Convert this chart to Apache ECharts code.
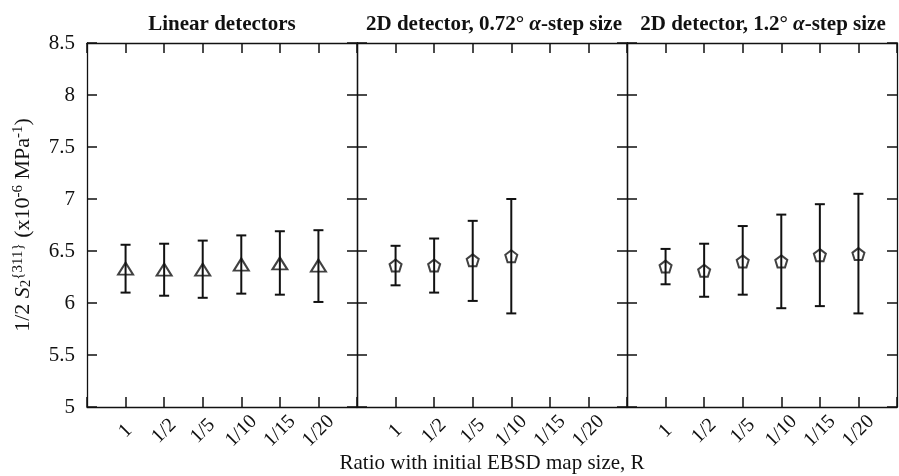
<!DOCTYPE html>
<html lang="en">
<head>
    <meta charset="UTF-8">
    <title>1/2 S2 vs map size ratio</title>
    <script src="https://cdn.jsdelivr.net/npm/echarts@6.0.0/dist/echarts.min.js"></script>
    <style type="text/css">
        *{margin:0;padding:0;}
        body{background:#fff;}
        #main{width:899px;height:476px;}
    </style>
</head>
<body>
<div id="main"></div>

<script type="text/javascript">
    // x categories (map size ratio)
    var xCats = ['1', '1/2', '1/5', '1/10', '1/15', '1/20'];
    var yTicks = [5, 5.5, 6, 6.5, 7, 7.5, 8, 8.5];

    // Linear detectors
    var linMean = [6.33, 6.32, 6.32, 6.37, 6.38, 6.36];
    var linLow  = [6.10, 6.07, 6.05, 6.09, 6.08, 6.01];
    var linHigh = [6.56, 6.57, 6.60, 6.65, 6.69, 6.70];

    // 2D detector, 0.72 deg step
    var d072Mean = [6.36, 6.36, 6.41, 6.45];
    var d072Low  = [6.17, 6.10, 6.02, 5.90];
    var d072High = [6.55, 6.62, 6.79, 7.00];

    // 2D detector, 1.2 deg step
    var d12Mean = [6.35, 6.31, 6.40, 6.40, 6.46, 6.47];
    var d12Low  = [6.18, 6.06, 6.08, 5.95, 5.97, 5.90];
    var d12High = [6.52, 6.57, 6.74, 6.85, 6.95, 7.05];

    var FONT = 'Liberation Serif';
    var INK = '#111';
    var PENTAGON = 'path://M0,-1 L0.951,-0.309 L0.588,0.809 L-0.588,0.809 L-0.951,-0.309 Z';

    var panels = [
        {mean: linMean, low: linLow, high: linHigh, symbol: 'triangle', size: [15, 12]},
        {mean: d072Mean, low: d072Low, high: d072High, symbol: PENTAGON, size: [12, 12]},
        {mean: d12Mean, low: d12Low, high: d12High, symbol: PENTAGON, size: [12, 12]}
    ];
    var lefts = [87, 357, 627];

    var myChart = echarts.init(document.getElementById('main'));

    var grid = [], xAxis = [], yAxis = [], series = [];
    lefts.forEach(function (l, i) {
        grid.push({left: l, top: 43, width: 270, height: 364, containLabel: false, outerBoundsMode: 'none'});
        var xBase = {
            gridIndex: i, type: 'value', min: 0, max: 7, interval: 1,
            axisLine: {show: true, onZero: false, lineStyle: {color: INK, width: 1.3}},
            axisTick: {show: true, inside: true, length: 10, lineStyle: {color: INK, width: 1.5}},
            splitLine: {show: false}
        };
        xAxis.push(Object.assign({}, xBase, {
            position: 'bottom',
            axisLabel: {
                rotate: 45, margin: 24, align: 'center', verticalAlign: 'middle',
                fontSize: 20, fontFamily: FONT, color: INK,
                formatter: function (v) { return xCats[v - 1] || ''; }
            },
            name: i === 1 ? 'Ratio with initial EBSD map size, R' : '',
            nameLocation: 'middle', nameGap: 46, nameMoveOverlap: false,
            nameTextStyle: {fontSize: 21, fontFamily: FONT, color: INK}
        }));
        xAxis.push(Object.assign({}, xBase, {position: 'top', axisLabel: {show: false}}));
        var yBase = {
            gridIndex: i, type: 'value', min: yTicks[0], max: yTicks[yTicks.length - 1], interval: 0.5,
            axisLine: {show: true, onZero: false, lineStyle: {color: INK, width: 1.3}},
            axisTick: {show: true, inside: true, length: 10, lineStyle: {color: INK, width: 1.5}},
            splitLine: {show: false}
        };
        yAxis.push(Object.assign({}, yBase, {
            position: 'left',
            axisLabel: {show: i === 0, margin: 12, fontSize: 21, fontFamily: FONT, color: INK},
            name: i === 0 ? '{m|1/2 }{i|S}{sub|2}{sup|{311}}{m| (x10}{sup|-6}{m| MPa}{sup|-1}{m|)}' : '',
            nameLocation: 'middle', nameGap: 53, nameRotate: 90,
            nameTextStyle: {
                fontSize: 15, fontFamily: FONT, color: INK, lineHeight: 32,
                rich: {
                    m: {fontSize: 22, fontFamily: FONT, color: INK, verticalAlign: 'bottom'},
                    i: {fontSize: 22, fontFamily: FONT, color: INK, fontStyle: 'italic', verticalAlign: 'bottom'},
                    sub: {fontSize: 15, fontFamily: FONT, color: INK, verticalAlign: 'bottom'},
                    sup: {fontSize: 15, fontFamily: FONT, color: INK}
                }
            }
        }));
        yAxis.push(Object.assign({}, yBase, {position: 'right', axisLabel: {show: false}}));

        var p = panels[i];
        var errData = p.mean.map(function (m, k) { return [k + 1, m, p.low[k], p.high[k]]; });
        series.push({
            type: 'custom',
            xAxisIndex: i * 2, yAxisIndex: i * 2,
            data: errData,
            renderItem: function (params, api) {
                var x = api.value(0);
                var top = api.coord([x, api.value(3)]);
                var bot = api.coord([x, api.value(2)]);
                var w = 5;
                var st = {stroke: INK, lineWidth: 2};
                return {
                    type: 'group',
                    children: [
                        {type: 'line', shape: {x1: top[0], y1: top[1], x2: bot[0], y2: bot[1]}, style: st},
                        {type: 'line', shape: {x1: top[0] - w, y1: top[1], x2: top[0] + w, y2: top[1]}, style: st},
                        {type: 'line', shape: {x1: bot[0] - w, y1: bot[1], x2: bot[0] + w, y2: bot[1]}, style: st}
                    ]
                };
            },
            silent: true, z: 2
        });
        series.push({
            type: 'scatter',
            xAxisIndex: i * 2, yAxisIndex: i * 2,
            data: p.mean.map(function (m, k) { return [k + 1, m]; }),
            symbol: p.symbol,
            symbolSize: p.size,
            itemStyle: {color: 'transparent', borderColor: INK, borderWidth: 2},
            z: 3
        });
    });

    var titleStyle = {fontSize: 21, fontWeight: 'bold', fontFamily: FONT, color: INK,
        rich: {a: {fontSize: 21, fontWeight: 'bold', fontStyle: 'italic', fontFamily: FONT, color: INK}}};
    var option = {
        backgroundColor: '#fff',
        animation: false,
        title: [
            {text: 'Linear detectors', left: 222, top: 14, padding: 0, textAlign: 'center', textStyle: titleStyle},
            {text: '2D detector, 0.72° {a|α}-step size', left: 494, top: 14, padding: 0, textAlign: 'center', textStyle: titleStyle},
            {text: '2D detector, 1.2° {a|α}-step size', left: 763, top: 14, padding: 0, textAlign: 'center', textStyle: titleStyle}
        ],
        grid: grid,
        xAxis: xAxis,
        yAxis: yAxis,
        series: series
    };

    myChart.setOption(option);
    window.onresize = myChart.resize;
</script>
</body>
</html>
